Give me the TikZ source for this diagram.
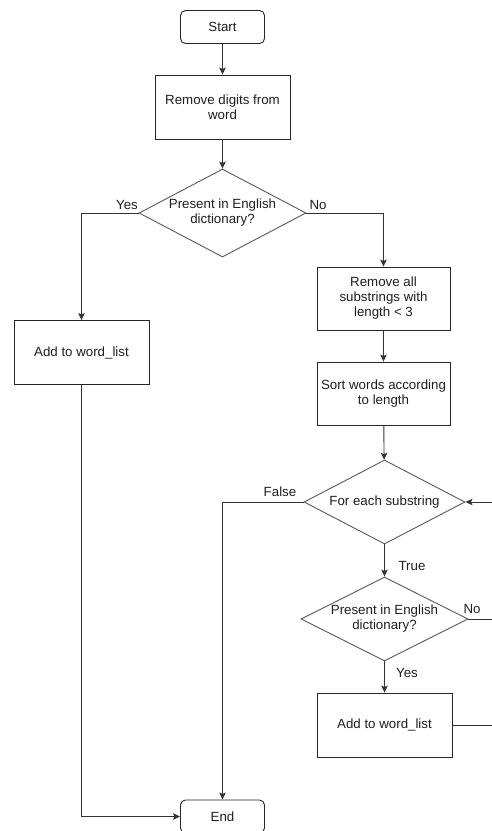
\documentclass[tikz,border=0pt]{standalone}
\usepackage{fontspec}
\setmainfont{Liberation Sans}
\usetikzlibrary{shapes.geometric,arrows.meta}
\begin{document}
\begin{tikzpicture}[x=1pt,y=-1pt,
  every node/.style={font=\fontsize{13.3}{15}\selectfont, text=black!88},
  proc/.style={draw=black!85, line width=0.9pt, minimum width=135pt, minimum height=64pt, align=center, inner sep=2pt},
  term/.style={draw=black!85, line width=0.9pt, rounded corners=5pt, minimum width=84pt, minimum height=33pt},
  decision/.style={draw=black!65, line width=0.9pt, diamond, inner sep=0pt,
    label={[align=center, inner sep=0pt]center:#1}},
  flow/.style={draw=black!80, line width=0.9pt, -{Stealth[length=7pt,width=6.5pt,inset=1.5pt]}},
  plain/.style={draw=black!80, line width=0.9pt},
  lbl/.style={inner sep=0pt}
]
\clip (0,0) rectangle (492,831);
\useasboundingbox (0,0) rectangle (492,831);
\fill[white] (0,0) rectangle (492,831);

% nodes
\node[term] (start) at (222.5,27) {Start};
\node[proc] (digits) at (222.5,107) {Remove digits from\\word};
\node[decision={Present in English\\dictionary?}, minimum width=167pt, minimum height=88pt] (dictA) at (222.5,213) {};
\node[proc] (addA) at (81.5,352.5) {Add to word\_list};
\node[proc, minimum width=133pt, minimum height=63pt] (substr) at (383.5,298.5) {Remove all\\substrings with\\length < 3};
\node[proc, minimum width=133pt, minimum height=63pt] (sort) at (383.5,393.5) {Sort words according\\to length};
\node[decision={For each substring}, minimum width=161pt, minimum height=84pt] (each) at (384.5,502) {};
\node[decision={Present in English\\dictionary?}, minimum width=167pt, minimum height=84pt] (dictB) at (384.5,619) {};
\node[proc] (addB) at (384.5,725) {Add to word\_list};
\node[term] (end) at (222.5,816.5) {End};

% loop rail on the right
\coordinate (rail) at (510,600);

% connectors
\draw[flow] (start) -- (digits);
\draw[flow] (digits) -- (dictA);
\draw[flow] (dictA.west) -| (addA.north);
\draw[flow] (dictA.east) -| (substr.north);
\draw[flow] (substr) -- (sort);
\draw[flow] (sort) -- (each);
\draw[flow] (each.west) -| (end.north);
\draw[flow] (each.south) -- (dictB.north);
\draw[flow] (dictB.south) -- (addB.north);
\draw[flow] (addA.south) |- (end.west);
\draw[plain] (dictB.east) -- (dictB.east -| rail);
\draw[flow] (addB.east) -- (addB.east -| rail) -- (each.east -| rail) -- (each.east);

% branch labels
\node[lbl] (yesA) at (127,205) {Yes};
\node[lbl] (noA) at (318,205) {No};
\node[lbl] (falseL) at (280,492) {False};
\node[lbl] (trueL) at (412,566) {True};
\node[lbl] (noB) at (472,609) {No};
\node[lbl] (yesB) at (407,673) {Yes};
\end{tikzpicture}
\end{document}
